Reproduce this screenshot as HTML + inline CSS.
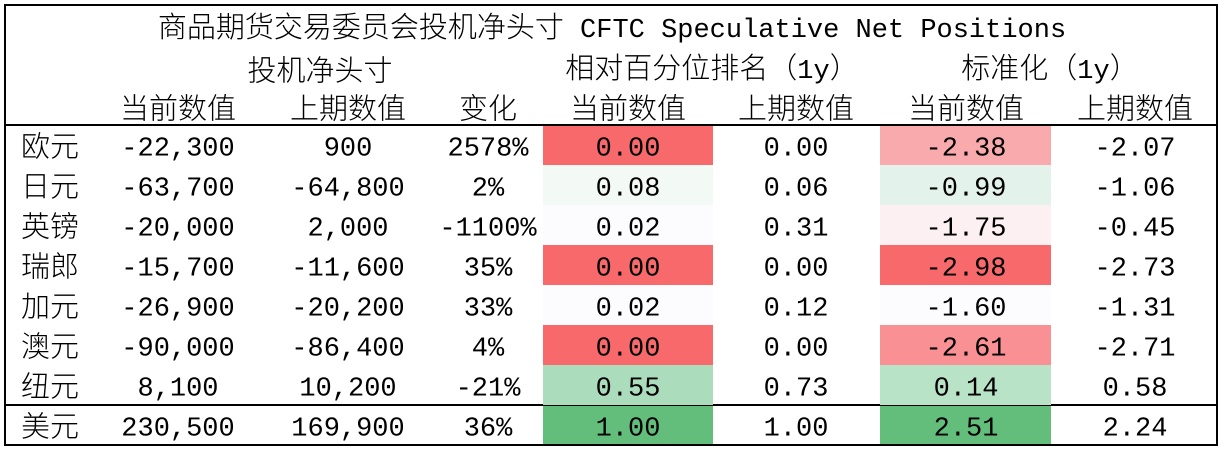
<!DOCTYPE html>
<html><head><meta charset="utf-8"><style>
html,body{margin:0;padding:0;background:#fff;}
body{width:1223px;height:449px;position:relative;overflow:hidden;font-family:"Liberation Mono","Noto Serif CJK SC",monospace;font-size:27px;color:#000;}
.t{position:absolute;transform:translate(-50%,-50%);white-space:nowrap;line-height:1;margin-top:5px;}
.z{font-family:"Noto Sans CJK SC","Liberation Mono",sans-serif;font-size:29px;font-weight:300;}
.t.l{margin-top:0px;}
.c{position:absolute;height:40px;}
.b{position:absolute;background:#000;}
</style></head><body>
<div class="b" style="left:4px;top:4px;width:1214px;height:2px"></div>
<div class="b" style="left:4px;top:4px;width:2px;height:442px"></div>
<div class="b" style="left:1216px;top:4px;width:2px;height:442px"></div>
<div class="b" style="left:4px;top:444px;width:1214px;height:2px"></div>
<div class="b" style="left:4px;top:124px;width:1214px;height:2px"></div>
<div class="b" style="left:4px;top:404px;width:1214px;height:2px"></div>

<div class="c" style="left:543px;top:126px;width:170px;height:39px;background:#F8696B"></div>
<div class="c" style="left:543px;top:165px;width:170px;background:#F3F9F5"></div>
<div class="c" style="left:543px;top:205px;width:170px;background:#FCFCFF"></div>
<div class="c" style="left:543px;top:245px;width:170px;background:#F8696B"></div>
<div class="c" style="left:543px;top:285px;width:170px;background:#FCFCFF"></div>
<div class="c" style="left:543px;top:325px;width:170px;background:#F8696B"></div>
<div class="c" style="left:543px;top:365px;width:170px;background:#ABDDBC"></div>
<div class="c" style="left:543px;top:406px;width:170px;height:38px;background:#63BE7B"></div>

<div class="c" style="left:880px;top:126px;width:171px;height:39px;background:#F9AAAC"></div>
<div class="c" style="left:880px;top:165px;width:171px;background:#E3F2EA"></div>
<div class="c" style="left:880px;top:205px;width:171px;background:#FCF0F3"></div>
<div class="c" style="left:880px;top:245px;width:171px;background:#F8696B"></div>
<div class="c" style="left:880px;top:285px;width:171px;background:#FCFCFF"></div>
<div class="c" style="left:880px;top:325px;width:171px;background:#F99093"></div>
<div class="c" style="left:880px;top:365px;width:171px;background:#B9E3C7"></div>
<div class="c" style="left:880px;top:406px;width:171px;height:38px;background:#63BE7B"></div>

<div class="t" style="left:612px;top:23px"><span class="z">商品期货交易委员会投机净头寸</span> CFTC Speculative Net Positions</div>
<div class="t z" style="left:320px;top:64px">投机净头寸</div>
<div class="t" style="left:712px;top:64px"><span class="z">相对百分位排名（</span>1y<span class="z">）</span></div>
<div class="t" style="left:1050px;top:64px"><span class="z">标准化（</span>1y<span class="z">）</span></div>
<div class="t z" style="left:178px;top:102px">当前数值</div>
<div class="t z" style="left:348px;top:102px">上期数值</div>
<div class="t z" style="left:488px;top:102px">变化</div>
<div class="t z" style="left:628px;top:102px">当前数值</div>
<div class="t z" style="left:796px;top:102px">上期数值</div>
<div class="t z" style="left:966px;top:102px">当前数值</div>
<div class="t z" style="left:1135px;top:102px">上期数值</div>

<div class="t z l" style="left:50px;top:145px">欧元</div><div class="t" style="left:178px;top:145px">-22,300</div><div class="t" style="left:348px;top:145px">900</div><div class="t" style="left:488px;top:145px">2578%</div><div class="t" style="left:628px;top:145px">0.00</div><div class="t" style="left:796px;top:145px">0.00</div><div class="t" style="left:966px;top:145px">-2.38</div><div class="t" style="left:1135px;top:145px">-2.07</div>
<div class="t z l" style="left:50px;top:185px">日元</div><div class="t" style="left:178px;top:185px">-63,700</div><div class="t" style="left:348px;top:185px">-64,800</div><div class="t" style="left:488px;top:185px">2%</div><div class="t" style="left:628px;top:185px">0.08</div><div class="t" style="left:796px;top:185px">0.06</div><div class="t" style="left:966px;top:185px">-0.99</div><div class="t" style="left:1135px;top:185px">-1.06</div>
<div class="t z l" style="left:50px;top:225px">英镑</div><div class="t" style="left:178px;top:225px">-20,000</div><div class="t" style="left:348px;top:225px">2,000</div><div class="t" style="left:488px;top:225px">-1100%</div><div class="t" style="left:628px;top:225px">0.02</div><div class="t" style="left:796px;top:225px">0.31</div><div class="t" style="left:966px;top:225px">-1.75</div><div class="t" style="left:1135px;top:225px">-0.45</div>
<div class="t z l" style="left:50px;top:265px">瑞郎</div><div class="t" style="left:178px;top:265px">-15,700</div><div class="t" style="left:348px;top:265px">-11,600</div><div class="t" style="left:488px;top:265px">35%</div><div class="t" style="left:628px;top:265px">0.00</div><div class="t" style="left:796px;top:265px">0.00</div><div class="t" style="left:966px;top:265px">-2.98</div><div class="t" style="left:1135px;top:265px">-2.73</div>
<div class="t z l" style="left:50px;top:305px">加元</div><div class="t" style="left:178px;top:305px">-26,900</div><div class="t" style="left:348px;top:305px">-20,200</div><div class="t" style="left:488px;top:305px">33%</div><div class="t" style="left:628px;top:305px">0.02</div><div class="t" style="left:796px;top:305px">0.12</div><div class="t" style="left:966px;top:305px">-1.60</div><div class="t" style="left:1135px;top:305px">-1.31</div>
<div class="t z l" style="left:50px;top:345px">澳元</div><div class="t" style="left:178px;top:345px">-90,000</div><div class="t" style="left:348px;top:345px">-86,400</div><div class="t" style="left:488px;top:345px">4%</div><div class="t" style="left:628px;top:345px">0.00</div><div class="t" style="left:796px;top:345px">0.00</div><div class="t" style="left:966px;top:345px">-2.61</div><div class="t" style="left:1135px;top:345px">-2.71</div>
<div class="t z l" style="left:50px;top:385px">纽元</div><div class="t" style="left:178px;top:385px">8,100</div><div class="t" style="left:348px;top:385px">10,200</div><div class="t" style="left:488px;top:385px">-21%</div><div class="t" style="left:628px;top:385px">0.55</div><div class="t" style="left:796px;top:385px">0.73</div><div class="t" style="left:966px;top:385px">0.14</div><div class="t" style="left:1135px;top:385px">0.58</div>
<div class="t z l" style="left:50px;top:425px">美元</div><div class="t" style="left:178px;top:425px">230,500</div><div class="t" style="left:348px;top:425px">169,900</div><div class="t" style="left:488px;top:425px">36%</div><div class="t" style="left:628px;top:425px">1.00</div><div class="t" style="left:796px;top:425px">1.00</div><div class="t" style="left:966px;top:425px">2.51</div><div class="t" style="left:1135px;top:425px">2.24</div>
</body></html>
